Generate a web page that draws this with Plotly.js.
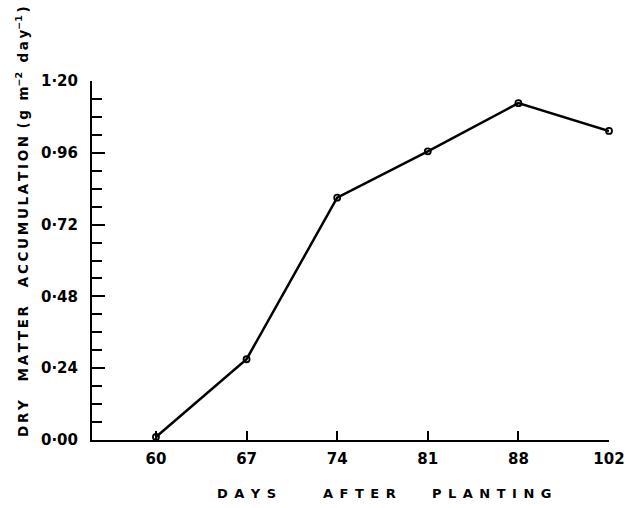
<!DOCTYPE html>
<html>
<head>
<meta charset="utf-8">
<script src="https://cdn.plot.ly/plotly-3.0.1.min.js"></script>
<style>html,body{margin:0;padding:0;background:#fff;}#chart{width:633px;height:508px;}</style>
</head>
<body>
<div id="chart"></div>
<script>
// Data
const days = ["60", "67", "74", "81", "88", "102"];
const dryMatter = [0.01, 0.27, 0.81, 0.965, 1.126, 1.033];
const yTickVals = [0, 0.24, 0.48, 0.72, 0.96, 1.20];
const yTickText = ["0·00", "0·24", "0·48", "0·72", "0·96", "1·20"];
const xTitleWords = ["DAYS", "AFTER", "PLANTING"];
const yTitleWords = ["DRY", "MATTER", "ACCUMULATION"];

const W = 633, H = 508;
const M = {l: 92, r: 24, t: 81, b: 68};
const pw = W - M.l - M.r, ph = H - M.t - M.b;
const px = x => (x - M.l) / pw;
const py = y => (H - M.b - y) / ph;

const FAM = "DejaVu Sans, Arial, sans-serif";
const spaced = (s, sep) => s.split("").join(sep);
const TH = "\u2009", EN = "\u2002", NB = "\u00a0";

const trace = {
  x: days, y: dryMatter, type: "scatter", mode: "lines+markers",
  line: {color: "#000", width: 2.5},
  marker: {symbol: "circle-open", size: 6, color: "#000", line: {width: 1.8, color: "#000"}},
  cliponaxis: false, hoverinfo: "skip"
};

// x title: three spaced words, placed at their centres in the reference
const xWordCentres = [246, 359, 492];
const xAnn = xTitleWords.map((w, i) => ({
  xref: "paper", yref: "paper", x: px(xWordCentres[i]), y: py(493),
  text: spaced(w, EN), showarrow: false, xanchor: "center", yanchor: "middle",
  font: {family: FAM, size: 13, color: "#000", weight: "bold"}
}));

const yTitle = yTitleWords.map(w => spaced(w, TH)).join(NB + NB + NB + NB) + NB + TH +
  "(" + TH + "g" + NB + NB + "m<sup>\u22122</sup>" + NB + NB + spaced("day", TH) + "<sup>\u22121</sup>" + TH + ")";

const layout = {
  width: W, height: H,
  margin: M,
  paper_bgcolor: "#fff", plot_bgcolor: "#fff",
  showlegend: false,
  font: {family: FAM, color: "#000"},
  xaxis: {
    type: "category", range: [-0.706, 5],
    showgrid: false, zeroline: false,
    showline: true, linecolor: "#000", linewidth: 2,
    ticks: "inside", ticklen: 9, tickwidth: 2, tickcolor: "#000",
    tickfont: {family: FAM, size: 15, color: "#000", weight: "bold"},
    ticklabelstandoff: 4
  },
  yaxis: {
    range: [0, 1.2],
    showgrid: false, zeroline: false,
    showline: true, linecolor: "#000", linewidth: 2,
    tickmode: "array", tickvals: yTickVals, ticktext: yTickText,
    ticks: "inside", ticklen: 13, tickwidth: 2, tickcolor: "#000",
    tickfont: {family: FAM, size: 15, color: "#000", weight: "bold"},
    ticklabelstandoff: 9,
    minor: {dtick: 0.06, tick0: 0, ticks: "inside", ticklen: 10, tickwidth: 2, tickcolor: "#000", showgrid: false}
  },
  annotations: xAnn.concat([
    {xref: "paper", yref: "paper", x: px(22), y: py(222), text: yTitle, showarrow: false,
     textangle: -90, xanchor: "center", yanchor: "middle",
     font: {family: FAM, size: 13.5, color: "#000", weight: "bold"}}
  ])
};

Plotly.newPlot("chart", [trace], layout, {staticPlot: true, displayModeBar: false});
</script>
</body>
</html>
